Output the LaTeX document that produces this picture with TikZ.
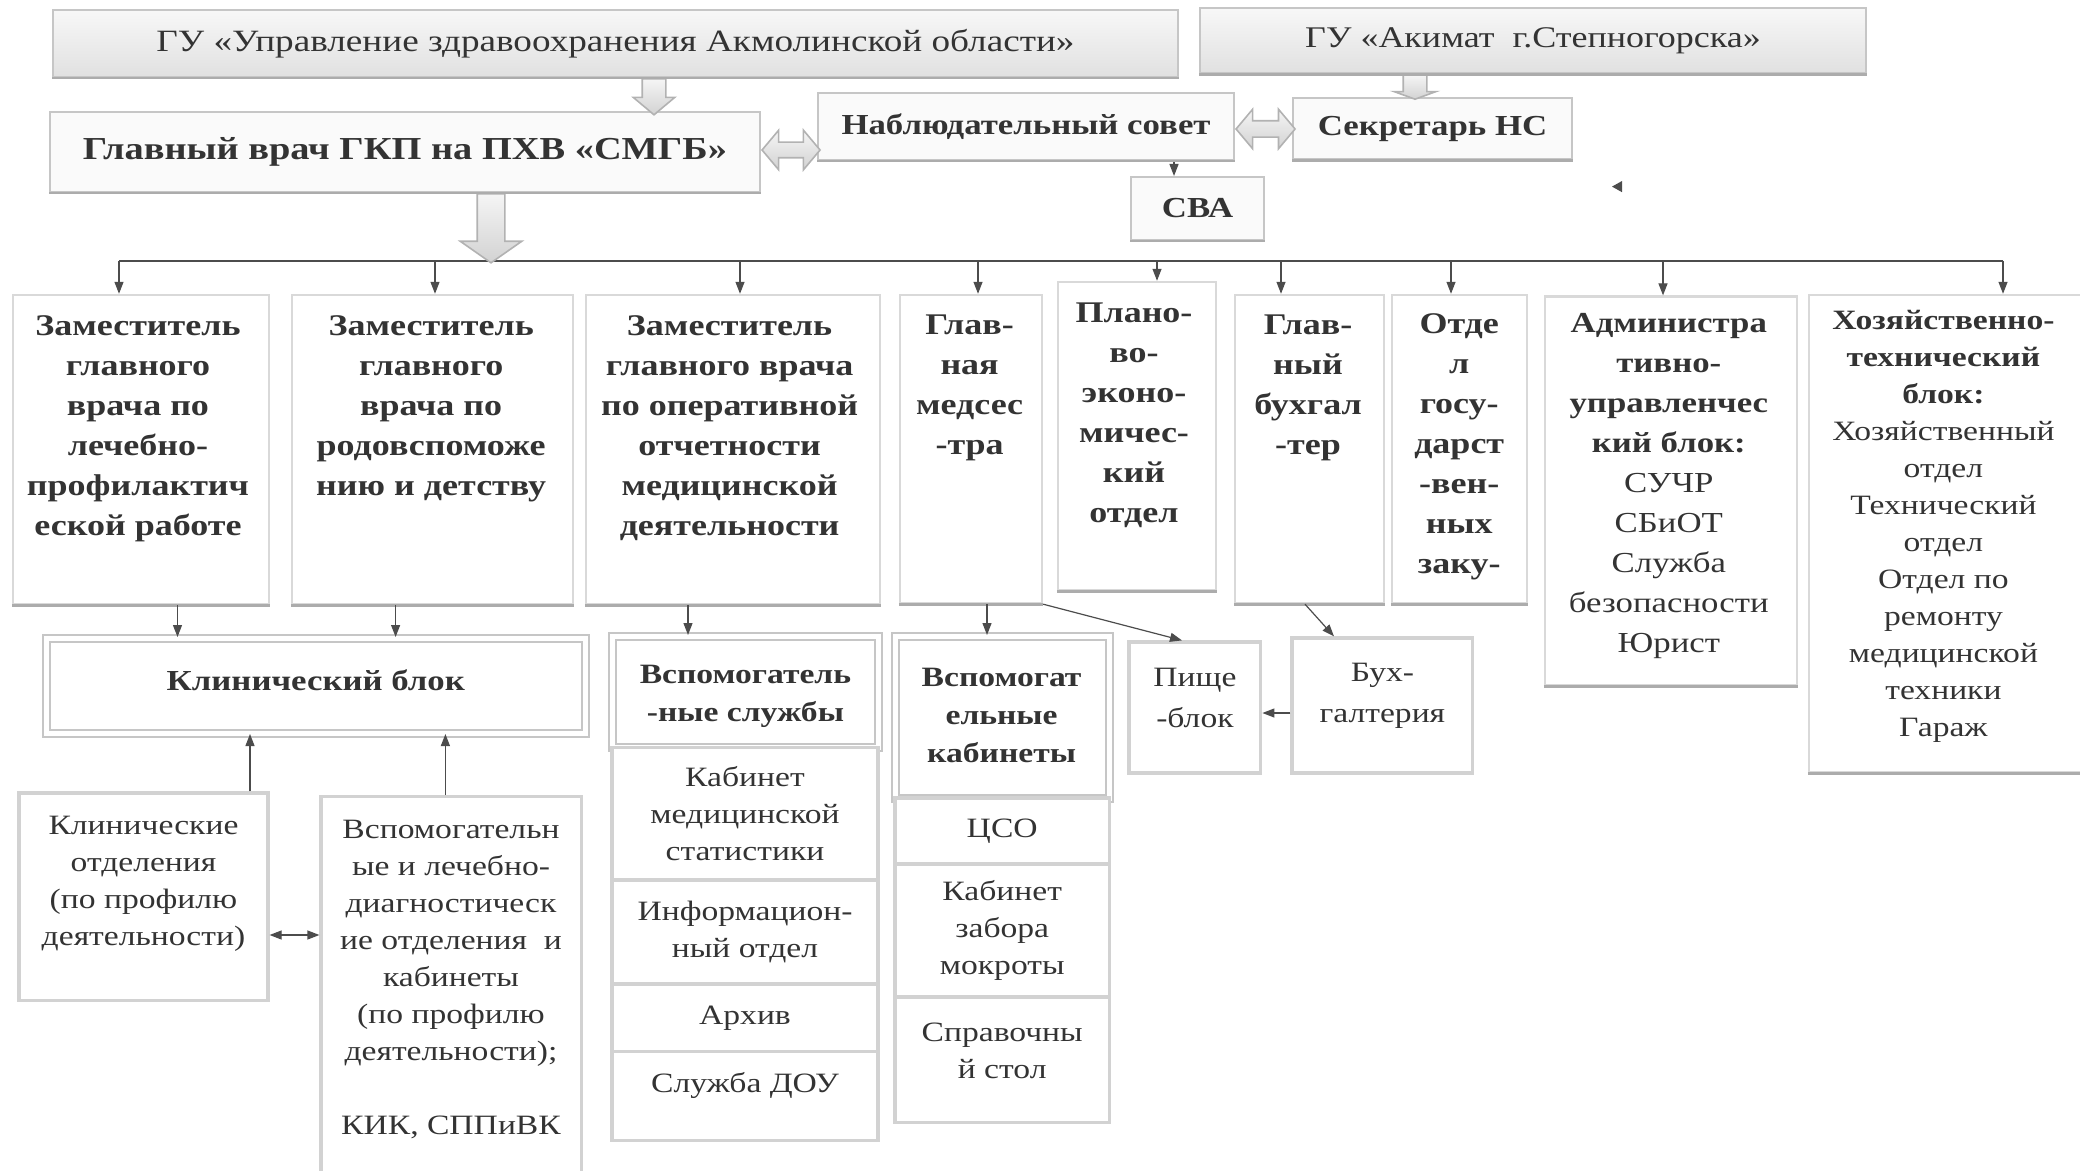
\documentclass[tikz,border=0pt]{standalone}
\usepackage{fontspec}
\setmainfont{Liberation Serif}[FakeStretch=1.2]
\usepackage{tikz}
\usetikzlibrary{positioning,fit,shapes.arrows,arrows.meta}

\definecolor{ink}{gray}{0.2}

\tikzset{
  box/.style={draw=gray!45, line width=1pt, fill=white, inner sep=0pt},
  hbox/.style={box, top color=gray!6, bottom color=gray!24},
  wbox/.style={box, fill=gray!4},
  col/.style={box, draw=gray!30, line width=1.2pt},
  dbox/.style={box, double=white, double distance=2.5pt},
  cell/.style={box, draw=gray!35, line width=1.6pt},
  edge/.style={draw=gray!65, line width=1.4pt},
  txt/.style={align=center, text=ink, inner sep=0pt},
  big/.style={txt, font=\bfseries\fontsize{15}{20}\selectfont},
  mid/.style={txt, font=\fontsize{14}{18.5}\selectfont},
  midb/.style={txt, font=\bfseries\fontsize{14}{19}\selectfont},
  line/.style={draw=black!70, line width=0.8pt},
  arr/.style={draw=black!70, line width=0.6pt, -{Triangle[length=6pt,width=4.5pt]}},
  arrs/.style={arr, {Triangle[length=6pt,width=4.5pt]}-{Triangle[length=6pt,width=4.5pt]}},
  fat/.style={draw=gray!60, line width=0.8pt, top color=gray!8, bottom color=gray!35, inner xsep=0pt}
}

\begin{document}
\begin{tikzpicture}[x=1pt,y=-1pt]
\useasboundingbox (0,0) rectangle (1040,585.5);

% management
\node[hbox, fit={(26.5,5) (589,38.5)}] (uz) {};
\node[txt, font=\fontsize{15.5}{18}\selectfont] (uzt) at (uz.center) {ГУ «Управление здравоохранения Акмолинской области»};
\node[hbox, fit={(600,4.2) (933,36.7)}] (akim) {};
\node[txt, font=\fontsize{15}{18}\selectfont] (akimt) at (akim.center) {ГУ «Акимат\ \ г.Степногорска»};
\node[wbox, fit={(25,56) (380,96)}] (glav) {};
\node[txt, font=\bfseries\fontsize{16}{19}\selectfont] (glavt) at (glav.center) {Главный врач ГКП на ПХВ «СМГБ»};
\node[wbox, fit={(409,46.5) (617,80)}] (nabl) {};
\node[txt, font=\bfseries\fontsize{14.5}{18}\selectfont] (nablt) at (nabl.center) {Наблюдательный совет};
\node[wbox, fit={(646.5,49) (786,79.7)}] (sekr) {};
\node[txt, font=\bfseries\fontsize{14.5}{18}\selectfont] (sekrt) at (sekr.center) {Секретарь НС};
\node[wbox, fit={(565.5,88.5) (632,120)}] (sva) {};
\node[txt, font=\bfseries\fontsize{14.5}{18}\selectfont] (svat) at (sva.center) {СВА};

\node[fat, single arrow, rotate=-90, anchor=tail, minimum height=18pt, inner ysep=5.5pt, single arrow head extend=4.5pt, single arrow tip angle=100] (uzdown) at (uz.south -| 327,0) {};
\node[fat, single arrow, rotate=-90, anchor=tail, minimum height=12pt, inner ysep=5.5pt, single arrow head extend=4.5pt, single arrow tip angle=140] (akdown) at (akim.south -| 707.5,0) {};
\node[fat, double arrow, anchor=west, minimum height=29pt, inner ysep=3.5pt, double arrow head extend=6pt, double arrow tip angle=100] (gn) at (glav.east |- 0,75) {};
\node[fat, double arrow, anchor=west, minimum height=29.5pt, inner ysep=3.7pt, double arrow head extend=5.8pt, double arrow tip angle=100] (ns) at (nabl.east |- 0,64.5) {};
\draw[arr] (nabl.south -| 587,0) -- (sva.north -| 587,0);
\fill[black!70] (806,93.3) -- (811,90.5) -- (811,96.1) -- cycle;

% deputies and services
\node[col, fit={(6.5,147.5) (134.5,302)}] (zam1) {};
\node[col, fit={(146,147.5) (286.5,302)}] (zam2) {};
\node[col, fit={(293,147.5) (440,302)}] (zam3) {};
\node[col, fit={(450,147.5) (521,301.5)}] (ms) {};
\node[col, fit={(529,141) (608,295)}] (plano) {};
\node[col, fit={(617.5,147.5) (692,301.5)}] (gb) {};
\node[col, fit={(696,147.5) (763.5,301.5)}] (otd) {};
\node[col, fit={(772.5,148.3) (898.5,342.5)}] (adm) {};
\node[col, fit={(904.5,147.5) (1042,386)}] (hoz) {};

\node[big] (zam1t) at (69,214.2) {Заместитель\\главного\\врача по\\лечебно-\\профилактич\\еской работе};
\node[big] (zam2t) at (215.6,204.3) {Заместитель\\главного\\врача по\\родовспоможе\\нию и детству};
\node[big] (zam3t) at (364.8,214.2) {Заместитель\\главного врача\\по оперативной\\отчетности\\медицинской\\деятельности};
\node[big] (mst) at (484.8,194) {Глав-\\ная\\медсес\\-тра};
\node[big] (planot) at (567,207.6) {Плано-\\во-\\эконо-\\мичес-\\кий\\отдел};
\node[big] (gbt) at (654,194) {Глав-\\ный\\бухгал\\-тер};
\node[big] (otdt) at (729.6,223.2) {Отде\\л\\госу-\\дарст\\-вен-\\ных\\заку-};
\node[txt, font=\fontsize{14.5}{20}\selectfont] (admt) at (834.4,243) {\textbf{Администра}\\\textbf{тивно-}\\\textbf{управленчес}\\\textbf{кий блок:}\\СУЧР\\СБиОТ\\Служба\\безопасности\\Юрист};
\node[mid] (hozt) at (971.7,263.3) {\textbf{Хозяйственно-}\\\textbf{технический}\\\textbf{блок:}\\Хозяйственный\\отдел\\Технический\\отдел\\Отдел по\\ремонту\\медицинской\\техники\\Гараж};

\coordinate (bus) at (0,130.5);
\draw[line] (bus -| 59.5,0) -- (bus -| 1001.5,0);
\node[fat, single arrow, rotate=-90, anchor=tail, minimum height=34.5pt, inner ysep=6.5pt, single arrow head extend=8.5pt, single arrow tip angle=110] (glavdown) at (glav.south -| 245.5,0) {};
\foreach \x/\n in {59.5/zam1,217.5/zam2,370/zam3,489/ms,578.5/plano,640.5/gb,725.5/otd,831.5/adm,1001.5/hoz}
  \draw[arr] (bus -| \x,0) -- (\n.north -| \x,0);

% blocks
\node[dbox, fit={(23,319) (292.5,366.5)}] (klin) {};
\node[txt, font=\bfseries\fontsize{14.5}{18}\selectfont] (klint) at (157.9,340.2) {Клинический блок};
\node[dbox, fit={(306,318) (439,373.7)}] (vsl) {};
\node[cell, fit={(306,373.7) (439,440)}] (vsl1) {};
\node[cell, fit={(306,440) (439,492)}] (vsl2) {};
\node[cell, fit={(306,492) (439,525.8)}] (vsl3) {};
\node[cell, fit={(306,525.8) (439,570.4)}] (vsl4) {};
\node[dbox, fit={(447.5,318) (554.7,399)}] (vkb) {};
\node[cell, fit={(447.5,399) (554.7,432)}] (vkb1) {};
\node[cell, fit={(447.5,432) (554.7,498.5)}] (vkb2) {};
\node[cell, fit={(447.5,498.5) (554.7,561.3)}] (vkb3) {};
\node[cell, fit={(564.5,321) (630.4,386.5)}] (pische) {};
\node[cell, fit={(646,319) (736.4,386.5)}] (buh) {};
\node[cell, fit={(9.5,396.5) (134,500.3)}] (klinotd) {};
\node[cell, fit={(160.5,398.3) (290.75,592)}] (vlech) {};

\node[midb] (vslt) at (372.7,348.2) {Вспомогатель\\-ные службы};
\node[mid] (vsl1t) at (vsl1.center) {Кабинет\\медицинской\\статистики};
\node[mid] (vsl2t) at (vsl2.center) {Информацион-\\ный отдел};
\node[mid] (vsl3t) at (vsl3.center) {Архив};
\node[mid, yshift=5.5pt] (vsl4t) at (vsl4.center) {Служба ДОУ};
\node[midb] (vkbt) at (500.8,357.5) {Вспомогат\\ельные\\кабинеты};
\node[mid] (vkb1t) at (vkb1.center) {ЦСО};
\node[mid] (vkb2t) at (vkb2.center) {Кабинет\\забора\\мокроты};
\node[mid, yshift=4.7pt] (vkb3t) at (vkb3.center) {Справочны\\й стол};
\node[txt, font=\fontsize{14}{20.5}\selectfont, yshift=4.8pt] (pischet) at (pische.center) {Пище\\-блок};
\node[txt, font=\fontsize{14}{20.5}\selectfont, yshift=5pt] (buht) at (buh.center) {Бух-\\галтерия};
\node[mid, yshift=6.7pt] (klinotdt) at (klinotd.center) {Клинические\\отделения\\(по профилю\\деятельности)};
\node[mid] (vlecht) at (225.5,489.5) {Вспомогательн\\ые и лечебно-\\диагностическ\\ие отделения\ \ и\\кабинеты\\(по профилю\\деятельности);\\[18.5pt]КИК, СППиВК};

\foreach \n in {uz,akim,glav,nabl,sekr,sva,zam1,zam2,zam3,ms,plano,gb,otd,adm,hoz}
  \draw[edge] (\n.south west) -- (\n.south east);

\draw[arr] (zam1.south -| 88.75,0) -- (klin.north -| 88.75,0);
\draw[arr] (zam2.south -| 197.8,0) -- (klin.north -| 197.8,0);
\draw[arr] (zam3.south -| 344,0) -- (vsl.north -| 344,0);
\draw[arr] (ms.south -| 493.5,0) -- (vkb.north -| 493.5,0);
\draw[arr] (ms.south east) -- (pische.north -| 591,0);
\draw[arr] (gb.south -| 652.5,0) -- (buh.north -| 667,0);
\draw[arr] (buh.west |- 0,356.5) -- (pische.east |- 0,356.5);
\draw[arr] (klinotd.north -| 125,0) -- (klin.south -| 125,0);
\draw[arr] (vlech.north -| 222.7,0) -- (klin.south -| 222.7,0);
\draw[arrs] (klinotd.east |- 0,467.5) -- (vlech.west |- 0,467.5);
\end{tikzpicture}
\end{document}
